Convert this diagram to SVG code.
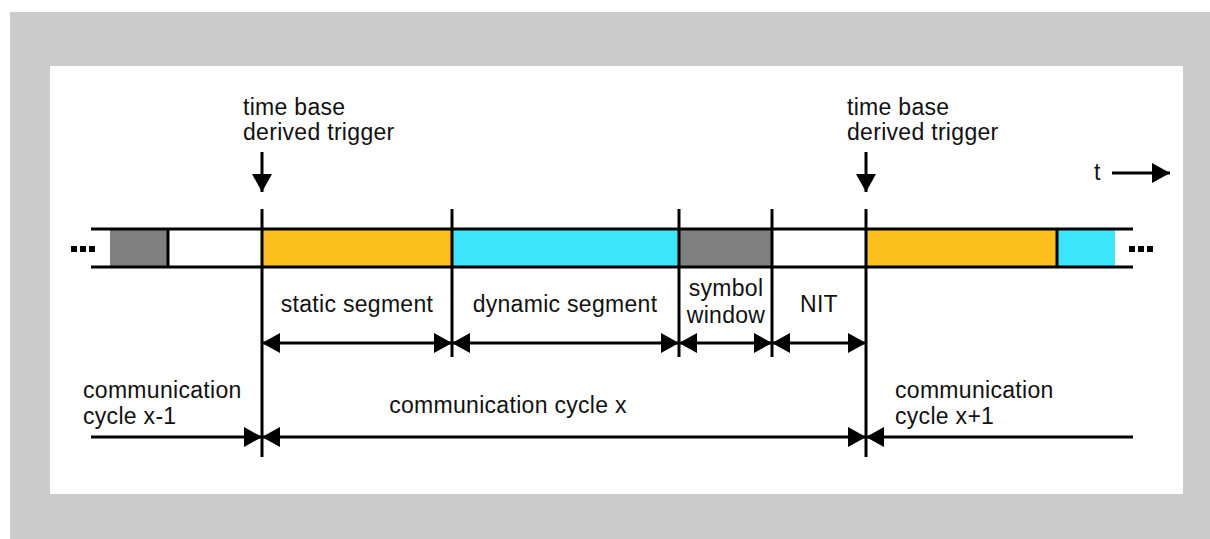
<svg xmlns="http://www.w3.org/2000/svg" width="1210" height="539" viewBox="0 0 1210 539">
<defs>
<marker id="ah" viewBox="0 0 18 20" refX="18" refY="10" markerWidth="18" markerHeight="20" markerUnits="userSpaceOnUse" orient="auto-start-reverse">
<path d="M0,0 L18,10 L0,20 Z" fill="#000"/>
</marker>
<style>
text{font-family:"Liberation Sans",Arial,sans-serif;font-size:23px;fill:#111;letter-spacing:0.3px}
.ln{stroke:#000;stroke-width:3;fill:none}
.c{text-anchor:middle}
</style>
</defs>
<rect x="10" y="12" width="1200" height="527" fill="#cccccc"/>
<rect x="50" y="66" width="1133" height="428" fill="#ffffff"/>

<g id="band">
<rect x="110" y="229" width="58" height="38" fill="#808080"/>
<rect x="262" y="229" width="190" height="38" fill="#fdbf1d"/>
<rect x="452" y="229" width="227" height="38" fill="#3de6fd"/>
<rect x="679" y="229" width="93" height="38" fill="#808080"/>
<rect x="866" y="229" width="191" height="38" fill="#fdbf1d"/>
<rect x="1057" y="229" width="58" height="38" fill="#3de6fd"/>
<line class="ln" x1="91" y1="229" x2="1133" y2="229"/>
<line class="ln" x1="91" y1="267" x2="1133" y2="267"/>
<line class="ln" x1="168" y1="229" x2="168" y2="267"/>
<line class="ln" x1="1057" y1="229" x2="1057" y2="267"/>
<rect x="71" y="246" width="6" height="6" fill="#000"/>
<rect x="80" y="246" width="6" height="6" fill="#000"/>
<rect x="89" y="246" width="6" height="6" fill="#000"/>
<rect x="1129" y="246" width="6" height="6" fill="#000"/>
<rect x="1138" y="246" width="6" height="6" fill="#000"/>
<rect x="1147" y="246" width="6" height="6" fill="#000"/>
</g>

<g id="dividers">
<line class="ln" x1="262" y1="209" x2="262" y2="457"/>
<line class="ln" x1="452" y1="209" x2="452" y2="357"/>
<line class="ln" x1="679" y1="209" x2="679" y2="357"/>
<line class="ln" x1="772" y1="209" x2="772" y2="357"/>
<line class="ln" x1="866" y1="209" x2="866" y2="457"/>
</g>

<g id="trigger1">
<text x="243" y="115">time base</text>
<text x="243" y="140">derived trigger</text>
</g>
<g id="trigger2">
<text x="847" y="115">time base</text>
<text x="847" y="140">derived trigger</text>
</g>
<g id="time-axis">
<text x="1094" y="180">t</text>
</g>

<g id="labels">
<text class="c" x="357" y="312">static segment</text>
<text class="c" x="565" y="312">dynamic segment</text>
<text class="c" x="726" y="296">symbol</text>
<text class="c" x="726" y="323">window</text>
<text class="c" x="819" y="312">NIT</text>
<text x="83" y="398">communication</text>
<text x="83" y="424">cycle x-1</text>
<text class="c" x="508" y="413">communication cycle x</text>
<text x="895" y="398">communication</text>
<text x="895" y="424">cycle x+1</text>
</g>

<g id="connectors">
<line class="ln" x1="262" y1="152" x2="262" y2="192" marker-end="url(#ah)"/>
<line class="ln" x1="866" y1="152" x2="866" y2="192" marker-end="url(#ah)"/>
<line class="ln" x1="1112" y1="173" x2="1170" y2="173" marker-end="url(#ah)"/>
<line class="ln" x1="262" y1="343" x2="452" y2="343" marker-start="url(#ah)" marker-end="url(#ah)"/>
<line class="ln" x1="452" y1="343" x2="679" y2="343" marker-start="url(#ah)" marker-end="url(#ah)"/>
<line class="ln" x1="679" y1="343" x2="772" y2="343" marker-start="url(#ah)" marker-end="url(#ah)"/>
<line class="ln" x1="772" y1="343" x2="866" y2="343" marker-start="url(#ah)" marker-end="url(#ah)"/>
<line class="ln" x1="91" y1="437" x2="262" y2="437" marker-end="url(#ah)"/>
<line class="ln" x1="262" y1="437" x2="866" y2="437" marker-start="url(#ah)" marker-end="url(#ah)"/>
<line class="ln" x1="1133" y1="437" x2="866" y2="437" marker-end="url(#ah)"/>
</g>
</svg>
